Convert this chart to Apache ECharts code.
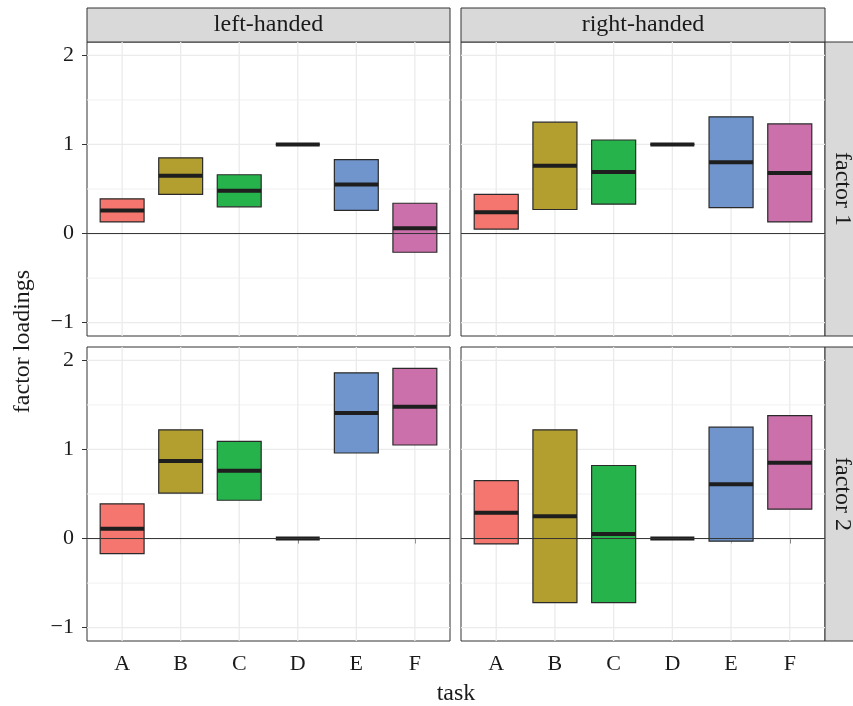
<!DOCTYPE html>
<html>
<head>
<meta charset="utf-8">
<script src="https://cdn.jsdelivr.net/npm/echarts@6/dist/echarts.min.js"></script>
<style>html,body{margin:0;padding:0;background:#fff}#c{width:853px;height:706px}</style>
</head>
<body>
<div id="c"></div>
<script>
// ---- data ----
const tasks = ['A', 'B', 'C', 'D', 'E', 'F'];
const handedness = ['left-handed', 'right-handed'];
const factors = ['factor 1', 'factor 2'];
const taskColors = ['#F4766E', '#B39E30', '#27B34B', '#00BFC4', '#6F95CC', '#CC70AC'];

// factor 1
const leftF1Lo  = [0.13, 0.44, 0.30, 1.00, 0.26, -0.21];
const leftF1Mid = [0.26, 0.65, 0.48, 1.00, 0.55, 0.06];
const leftF1Hi  = [0.39, 0.85, 0.66, 1.00, 0.83, 0.34];
const rightF1Lo  = [0.05, 0.27, 0.33, 1.00, 0.29, 0.13];
const rightF1Mid = [0.24, 0.76, 0.69, 1.00, 0.80, 0.68];
const rightF1Hi  = [0.44, 1.25, 1.05, 1.00, 1.31, 1.23];
// factor 2
const leftF2Lo  = [-0.17, 0.51, 0.43, 0.00, 0.96, 1.05];
const leftF2Mid = [0.11, 0.87, 0.76, 0.00, 1.41, 1.48];
const leftF2Hi  = [0.39, 1.22, 1.09, 0.00, 1.86, 1.91];
const rightF2Lo  = [-0.06, -0.72, -0.72, 0.00, -0.03, 0.33];
const rightF2Mid = [0.29, 0.25, 0.05, 0.00, 0.61, 0.85];
const rightF2Hi  = [0.65, 1.22, 0.82, 0.00, 1.25, 1.38];

const yTicks = [-1, 0, 1, 2];
const yMinorGrid = [-0.5, 0.5, 1.5];
const zeroLine = [0];

// ---- layout / style ----
const FONT = 'Liberation Serif';
const X_MIN = 0.4, X_MAX = 6.6, Y_MIN = -1.15, Y_MAX = 2.15, BOX_W = 0.75;
const panels = [
  {left: 87,  top: 42,  width: 363, height: 294, lo: leftF1Lo,  mid: leftF1Mid,  hi: leftF1Hi,  showY: true,  showX: false},
  {left: 461, top: 42,  width: 364, height: 294, lo: rightF1Lo, mid: rightF1Mid, hi: rightF1Hi, showY: false, showX: false},
  {left: 87,  top: 347, width: 363, height: 294, lo: leftF2Lo,  mid: leftF2Mid,  hi: leftF2Hi,  showY: true,  showX: true},
  {left: 461, top: 347, width: 364, height: 294, lo: rightF2Lo, mid: rightF2Mid, hi: rightF2Hi, showY: false, showX: true}
];
const xPositions = tasks.map((t, i) => i + 1);
const fmtNum = v => (v < 0 ? '\u2212' + Math.abs(v) : String(v));

const grids = [], xAxes = [], yAxes = [], series = [];
panels.forEach((p, k) => {
  grids.push({left: p.left, top: p.top, width: p.width, height: p.height, show: true,
    borderColor: '#333', borderWidth: 1, backgroundColor: '#fff'});
  xAxes.push({type: 'value', gridIndex: k, min: X_MIN, max: X_MAX,
    axisLine: {show: false}, splitLine: {show: false},
    axisTick: {show: p.showX, customValues: xPositions, length: 5, lineStyle: {color: '#333'}},
    axisLabel: {show: p.showX, customValues: xPositions, margin: 12,
      fontFamily: FONT, fontSize: 22, color: '#1A1A1A',
      formatter: v => tasks[Math.round(v) - 1] || ''}});
  yAxes.push({type: 'value', gridIndex: k, min: Y_MIN, max: Y_MAX,
    axisLine: {show: false}, splitLine: {show: false},
    axisTick: {show: p.showY, customValues: yTicks, length: 5, lineStyle: {color: '#333'}},
    axisLabel: {show: p.showY, customValues: yTicks, margin: 13,
      fontFamily: FONT, fontSize: 22, color: '#1A1A1A', formatter: fmtNum}});

  // grid lines
  series.push({type: 'custom', xAxisIndex: k, yAxisIndex: k, silent: true, z: 1,
    data: yMinorGrid.map(v => [v]),
    renderItem: (params, api) => {
      const a = api.coord([X_MIN, api.value(0)]), b = api.coord([X_MAX, api.value(0)]);
      return {type: 'line', shape: {x1: a[0], y1: a[1], x2: b[0], y2: b[1]}, style: {stroke: '#F0F0F0', lineWidth: 1}};
    }});
  series.push({type: 'custom', xAxisIndex: k, yAxisIndex: k, silent: true, z: 1,
    data: yTicks.map(v => [v]),
    renderItem: (params, api) => {
      const a = api.coord([X_MIN, api.value(0)]), b = api.coord([X_MAX, api.value(0)]);
      return {type: 'line', shape: {x1: a[0], y1: a[1], x2: b[0], y2: b[1]}, style: {stroke: '#EBEBEB', lineWidth: 1.3}};
    }});
  series.push({type: 'custom', xAxisIndex: k, yAxisIndex: k, silent: true, z: 1,
    data: xPositions.map(v => [v]),
    renderItem: (params, api) => {
      const a = api.coord([api.value(0), Y_MIN]), b = api.coord([api.value(0), Y_MAX]);
      return {type: 'line', shape: {x1: a[0], y1: a[1], x2: b[0], y2: b[1]}, style: {stroke: '#EBEBEB', lineWidth: 1.3}};
    }});
  // crossbars
  series.push({type: 'custom', xAxisIndex: k, yAxisIndex: k, z: 3,
    data: tasks.map((t, i) => [i + 1, p.lo[i], p.mid[i], p.hi[i]]),
    renderItem: (params, api) => {
      const x = api.value(0), lo = api.value(1), mid = api.value(2), hi = api.value(3);
      const p1 = api.coord([x - BOX_W / 2, hi]);
      const p2 = api.coord([x + BOX_W / 2, lo]);
      const m1 = api.coord([x - BOX_W / 2, mid]);
      const m2 = api.coord([x + BOX_W / 2, mid]);
      const color = taskColors[Math.round(x) - 1];
      return {type: 'group', children: [
        {type: 'rect', shape: {x: p1[0], y: p1[1], width: p2[0] - p1[0], height: p2[1] - p1[1]},
          style: {fill: color, stroke: '#2A2A2A', lineWidth: 1.2}},
        {type: 'line', shape: {x1: m1[0], y1: m1[1], x2: m2[0], y2: m2[1]},
          style: {stroke: '#1E1E1E', lineWidth: 4}}
      ]};
    }});
  // zero reference line
  series.push({type: 'custom', xAxisIndex: k, yAxisIndex: k, silent: true, z: 5,
    data: zeroLine.map(v => [v]),
    renderItem: (params, api) => {
      const a = api.coord([X_MIN, api.value(0)]), b = api.coord([X_MAX, api.value(0)]);
      return {type: 'line', shape: {x1: a[0], y1: a[1], x2: b[0], y2: b[1]}, style: {stroke: '#333', lineWidth: 1}};
    }});
});

// strips and titles
const graphics = [];
handedness.forEach((h, i) => {
  const p = panels[i];
  graphics.push({type: 'rect', shape: {x: p.left, y: 8, width: p.width, height: p.top - 8},
    style: {fill: '#D9D9D9', stroke: '#333', lineWidth: 1}});
  graphics.push({type: 'text', x: p.left + p.width / 2, y: 8 + (p.top - 8) / 2,
    style: {text: h, font: '24px "' + FONT + '"', fill: '#1A1A1A', align: 'center', verticalAlign: 'middle'}});
});
factors.forEach((f, j) => {
  const p = panels[j * 2 + 1];
  const x0 = p.left + p.width;
  graphics.push({type: 'rect', shape: {x: x0, y: p.top, width: 34, height: p.height},
    style: {fill: '#D9D9D9', stroke: '#333', lineWidth: 1}});
  graphics.push({type: 'text', x: x0 + 17, y: p.top + p.height / 2, rotation: -Math.PI / 2,
    style: {text: f, font: '24px "' + FONT + '"', fill: '#1A1A1A', align: 'center', verticalAlign: 'middle'}});
});
graphics.push({type: 'text', x: 23, y: (panels[0].top + panels[2].top + panels[2].height) / 2, rotation: Math.PI / 2,
  style: {text: 'factor loadings', font: '24px "' + FONT + '"', fill: '#1A1A1A', align: 'center', verticalAlign: 'middle'}});
graphics.push({type: 'text', x: (panels[2].left + panels[3].left + panels[3].width) / 2, y: 694,
  style: {text: 'task', font: '24px "' + FONT + '"', fill: '#1A1A1A', align: 'center', verticalAlign: 'middle'}});

const chart = echarts.init(document.getElementById('c'), null, {renderer: 'canvas'});
chart.setOption({
  animation: false,
  backgroundColor: '#fff',
  grid: grids, xAxis: xAxes, yAxis: yAxes, series: series,
  graphic: {elements: graphics}
});
</script>
</body>
</html>
